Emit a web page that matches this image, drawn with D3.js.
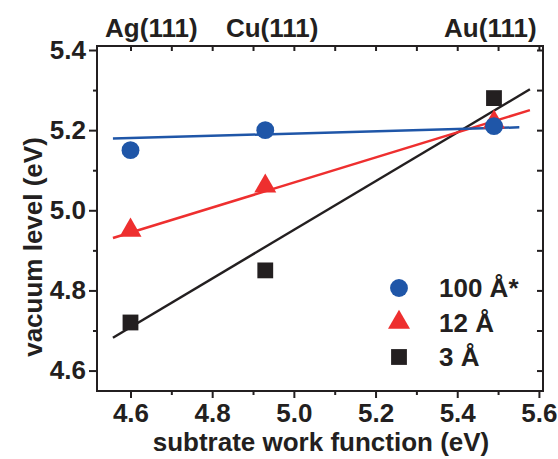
<!DOCTYPE html>
<html>
<head>
<meta charset="utf-8">
<script src="https://cdn.jsdelivr.net/npm/d3@7"></script>
<style>
  body { margin: 0; background: #fff; }
  text { font-family: "Liberation Sans", Arial, sans-serif; font-weight: bold; fill: #231f20; }
</style>
</head>
<body>
<div id="chart"></div>
<script>
// data
const substrates = ['Ag(111)', 'Cu(111)', 'Au(111)'];
const workFunction = [4.60, 4.93, 5.49];
const series_names = ['100 Å*', '12 Å', '3 Å'];
const vac_100 = [5.15, 5.20, 5.21];
const vac_12 = [4.95, 5.06, 5.22];
const vac_3 = [4.72, 4.85, 5.28];
// fit line end points [x0, x1], [y0, y1]
const fit_x = [4.557, 5.552];
const fit_x_long = [4.557, 5.578];
const fit_100 = [5.179, 5.207];
const fit_12 = [4.931, 5.250];
const fit_3 = [4.682, 5.302];
const x_ticks = [4.6, 4.8, 5.0, 5.2, 5.4, 5.6];
const x_minor = [4.7, 4.9, 5.1, 5.3, 5.5];
const y_ticks = [4.6, 4.8, 5.0, 5.2, 5.4];
const y_minor = [4.7, 4.9, 5.1, 5.3];

const W = 558, H = 459;
const MARGIN = { LEFT: 97, RIGHT: 15, TOP: 46, BOTTOM: 68 };
const WIDTH = W - MARGIN.LEFT - MARGIN.RIGHT;
const HEIGHT = H - MARGIN.TOP - MARGIN.BOTTOM;
const BLUE = '#1f56a8', RED = '#ee2f2f', BLACK = '#231f20';

let svg = d3.select('#chart').append('svg')
    .attr('width', W).attr('height', H);
let g = svg.append('g')
    .attr('transform', `translate(${MARGIN.LEFT},${MARGIN.TOP})`);

let x = d3.scaleLinear().domain([4.518, 5.61]).range([0, WIDTH]);
let y = d3.scaleLinear().domain([4.549, 5.41]).range([HEIGHT, 0]);

function styleAxis(sel) {
    sel.select('.domain').remove();
    sel.selectAll('line').attr('stroke', BLACK).attr('stroke-width', 2);
    sel.selectAll('text').attr('font-size', 26).attr('fill', BLACK)
        .attr('font-family', '"Liberation Sans", Arial, sans-serif').attr('font-weight', 'bold');
}

// bottom axis
g.append('g').attr('transform', `translate(0,${HEIGHT})`)
    .call(d3.axisBottom(x).tickValues(x_ticks).tickSize(7).tickPadding(6).tickFormat(d3.format('.1f')))
    .call(styleAxis);
g.append('g').attr('transform', `translate(0,${HEIGHT})`)
    .call(d3.axisBottom(x).tickValues(x_minor).tickSize(4).tickFormat(''))
    .call(styleAxis);
// left axis
g.append('g')
    .call(d3.axisLeft(y).tickValues(y_ticks).tickSize(8).tickPadding(3).tickFormat(d3.format('.1f')))
    .call(styleAxis);
g.append('g')
    .call(d3.axisLeft(y).tickValues(y_minor).tickSize(4).tickFormat(''))
    .call(styleAxis);
// top and right (inward ticks)
g.append('g')
    .call(d3.axisBottom(x).tickValues(x_ticks.concat(x_minor)).tickSize(5).tickFormat(''))
    .call(styleAxis);
g.append('g').attr('transform', `translate(${WIDTH},0)`)
    .call(d3.axisLeft(y).tickValues(y_ticks.concat(y_minor)).tickSize(6).tickFormat(''))
    .call(styleAxis);

// frame
g.append('rect')
    .attr('x', 0).attr('y', 0).attr('width', WIDTH).attr('height', HEIGHT)
    .attr('fill', 'none').attr('stroke', BLACK).attr('stroke-width', 2);

// fit lines
const fits = [
    { xs: fit_x_long, ys: fit_3, color: BLACK },
    { xs: fit_x_long, ys: fit_12, color: RED },
    { xs: fit_x, ys: fit_100, color: BLUE }
];
fits.forEach(f => {
    g.append('line')
        .attr('x1', x(f.xs[0])).attr('x2', x(f.xs[1]))
        .attr('y1', y(f.ys[0])).attr('y2', y(f.ys[1]))
        .attr('stroke', f.color).attr('stroke-width', 2.5);
});

// markers
const sym_square = d3.symbol().type(d3.symbolSquare).size(250);
const sym_tri = d3.symbol().type(d3.symbolTriangle).size(210);
const sym_circ = d3.symbol().type(d3.symbolCircle).size(250);

g.selectAll('.sq').data(vac_3).enter().append('path')
    .attr('d', sym_square)
    .attr('transform', (d, i) => `translate(${x(workFunction[i])},${y(d)})`)
    .attr('fill', BLACK);
g.selectAll('.tri').data(vac_12).enter().append('path')
    .attr('d', sym_tri)
    .attr('transform', (d, i) => `translate(${x(workFunction[i])},${y(d)})`)
    .attr('fill', RED);
g.selectAll('.circ').data(vac_100).enter().append('path')
    .attr('d', sym_circ)
    .attr('transform', (d, i) => `translate(${x(workFunction[i])},${y(d)})`)
    .attr('fill', BLUE);

// substrate labels on top
const sub_label_x = [4.651, 4.947, 5.481];
g.selectAll('.sub').data(substrates).enter().append('text')
    .attr('x', (d, i) => x(sub_label_x[i]))
    .attr('y', -9)
    .attr('text-anchor', 'middle')
    .attr('font-size', 26)
    .text(d => d);

// legend
const legend_syms = [sym_circ, sym_tri, sym_square];
const legend_cols = [BLUE, RED, BLACK];
let leg = g.append('g').attr('transform', `translate(${399 - MARGIN.LEFT},${288 - MARGIN.TOP})`);
series_names.forEach((name, i) => {
    leg.append('path').attr('d', legend_syms[i])
        .attr('transform', `translate(0,${i * 34.5})`)
        .attr('fill', legend_cols[i]);
    leg.append('text').attr('x', 40).attr('y', i * 34.5 + 9)
        .attr('font-size', 26).text(name);
});

// axis titles
svg.append('text')
    .attr('x', 321).attr('y', 451)
    .attr('text-anchor', 'middle').attr('font-size', 26)
    .text('subtrate work function (eV)');
svg.append('text')
    .attr('transform', `translate(42,247) rotate(-90)`)
    .attr('text-anchor', 'middle').attr('font-size', 26)
    .text('vacuum level (eV)');
</script>
</body>
</html>
